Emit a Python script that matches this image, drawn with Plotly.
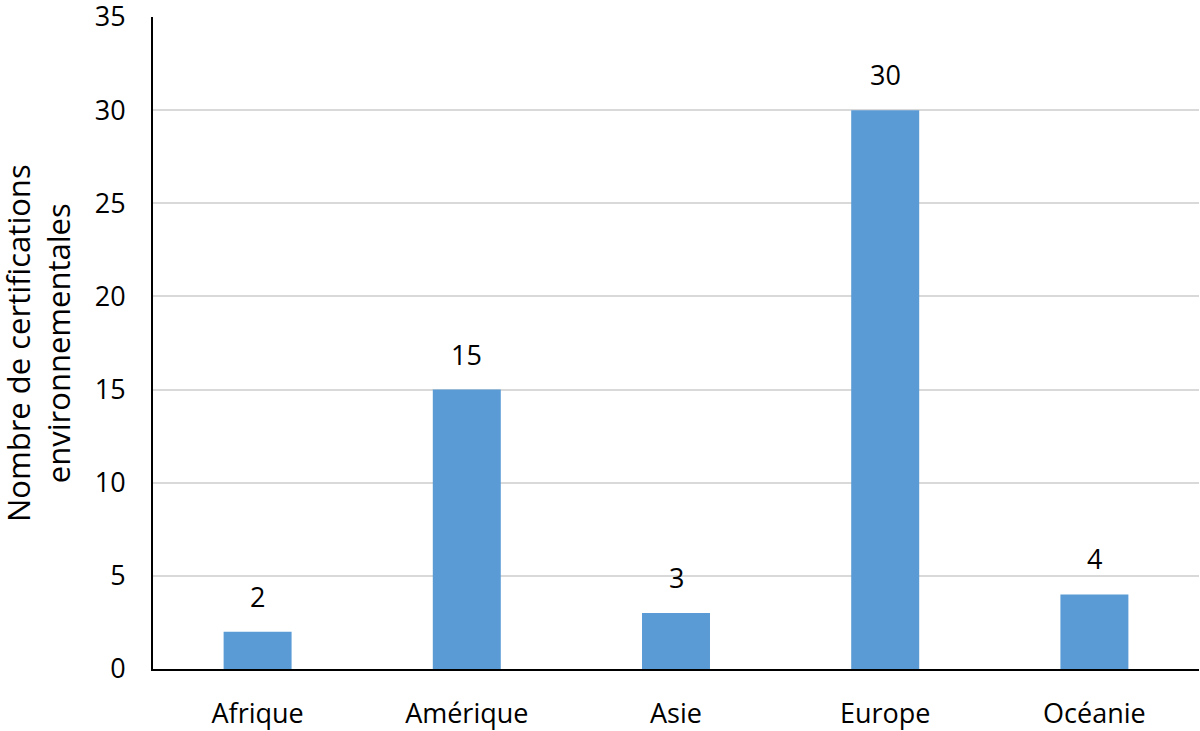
import plotly.graph_objects as go

categories = ["Afrique", "Amérique", "Asie", "Europe", "Océanie"]
values = [2, 15, 3, 30, 4]
y_ticks = [0, 5, 10, 15, 20, 25, 30, 35]
y_title = "Nombre de certifications<br>environnementales"

font_family = "Open Sans, Liberation Sans, sans-serif"
L, R, T, B = 153, 1, 17, 62
plot_w = 1200 - L - R

fig = go.Figure(go.Bar(
    x=categories, y=values,
    marker=dict(color="#5B9BD5", line=dict(width=0)),
    hoverinfo="x+y",
))

for c, v in zip(categories, values):
    fig.add_annotation(
        x=c, y=v, xref="x", yref="y", text=str(v),
        showarrow=False, yanchor="bottom", yshift=15,
        font=dict(size=27, color="#000000", family=font_family),
    )

fig.add_annotation(
    x=(38 - L) / plot_w, y=0.5, xref="paper", yref="paper",
    text=y_title, textangle=-90, showarrow=False,
    xanchor="center", yanchor="middle",
    font=dict(size=31, color="#000000", family=font_family),
)

fig.update_layout(
    width=1200, height=731,
    margin=dict(l=L, r=R, t=T, b=B),
    paper_bgcolor="white", plot_bgcolor="white",
    bargap=0.675,
    showlegend=False,
    font=dict(family=font_family, size=27, color="#000000"),
    xaxis=dict(
        automargin=False,
        showline=True, linecolor="#000000", linewidth=2,
        showgrid=False, ticks="", tickfont=dict(size=27),
        ticklabelstandoff=20, ticklabeloverflow="allow",
    ),
    yaxis=dict(
        automargin=False,
        range=[0, 35], tickvals=y_ticks,
        showline=True, linecolor="#000000", linewidth=2,
        showgrid=True, gridcolor="#D9D9D9", gridwidth=2,
        zeroline=False, ticks="", tickfont=dict(size=27),
        ticklabelstandoff=20, ticklabeloverflow="allow",
    ),
)

fig.write_html(
    "out.html",
    config={"displayModeBar": False},
    post_script="document.body.style.margin='0px';",
)
